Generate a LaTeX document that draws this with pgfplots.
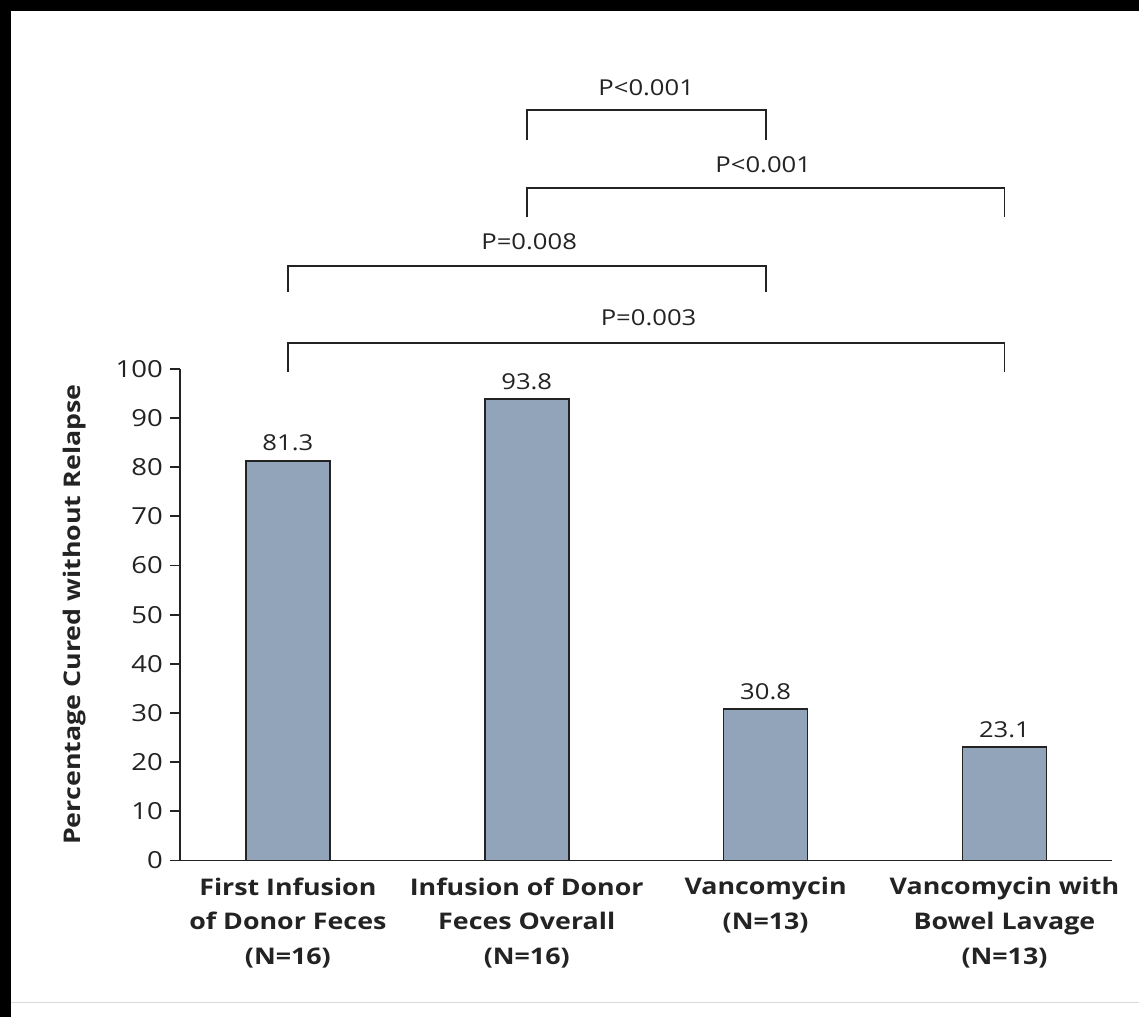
\documentclass[border=0pt]{standalone}
\usepackage{pgfplots}
\pgfplotsset{compat=1.18}
\usepackage{fontspec}
\setmainfont{Open Sans}[FakeStretch=1.17]
\definecolor{barfill}{RGB}{145,164,186}
\definecolor{txt}{RGB}{35,35,35}
\begin{document}
\begin{tikzpicture}[x=1bp,y=1bp]
\fill[black] (0,0) rectangle (570,509);
\fill[white] (5.5,0) rectangle (570,503.5);
\draw[black!15, line width=0.6bp] (5.5,7.5) -- (570,7.5);
\begin{axis}[
  at={(90bp,78.5bp)}, anchor=south west,
  scale only axis, width=466.5bp, height=246bp,
  xmin=-0.452, xmax=3.452, ymin=0, ymax=100,
  axis x line*=bottom, axis y line*=left,
  axis line style={-, line width=0.9bp, txt},
  ytick={0,10,...,100},
  xtick={0,1,2,3},
  xticklabels={{First Infusion\\of Donor Feces\\(N=16)},{Infusion of Donor\\Feces Overall\\(N=16)},{Vancomycin\\(N=13)},{Vancomycin with\\Bowel Lavage\\(N=13)}},
  xticklabel style={align=center, font=\bfseries\fontsize{11.5}{17.5}\selectfont, text=txt},
  yticklabel style={font=\fontsize{11.8}{14}\selectfont, text=txt},
  /pgf/number format/assume math mode=true,
  tick align=outside, major tick length=5bp,
  x tick style={draw=none},
  y tick style={line width=0.9bp, txt},
  clip=false,
  ylabel={Percentage Cured without Relapse},
  ylabel style={at={(axis description cs:-0.1125,0.5)}, anchor=center, rotate=0, font=\bfseries\fontsize{11.5}{14}\selectfont, text=txt},
]
\addplot[ybar, bar width=42bp, fill=barfill, draw=txt, line width=0.8bp,
  nodes near coords, nodes near coords style={font=\fontsize{11}{13}\selectfont, text=txt, anchor=south, yshift=1bp}]
  coordinates {(0,81.3) (1,93.8) (2,30.8) (3,23.1)};
\addplot[txt, line width=0.9bp, no markers] coordinates {(1,146.5) (1,152.6) (2,152.6) (2,146.5)};
\addplot[txt, line width=0.9bp, no markers] coordinates {(1,130.9) (1,136.8) (3,136.8) (3,130.9)};
\addplot[txt, line width=0.9bp, no markers] coordinates {(0,115.7) (0,120.9) (2,120.9) (2,115.7)};
\addplot[txt, line width=0.9bp, no markers] coordinates {(0,99.4) (0,105.3) (3,105.3) (3,99.4)};
\node[font=\fontsize{11}{13}\selectfont, text=txt] at (axis cs:1.5,157.1) {P<0.001};
\node[font=\fontsize{11}{13}\selectfont, text=txt] at (axis cs:1.99,141.5) {P<0.001};
\node[font=\fontsize{11}{13}\selectfont, text=txt] at (axis cs:1.01,125.8) {P=0.008};
\node[font=\fontsize{11}{13}\selectfont, text=txt] at (axis cs:1.51,110.4) {P=0.003};
\end{axis}
\end{tikzpicture}
\end{document}
